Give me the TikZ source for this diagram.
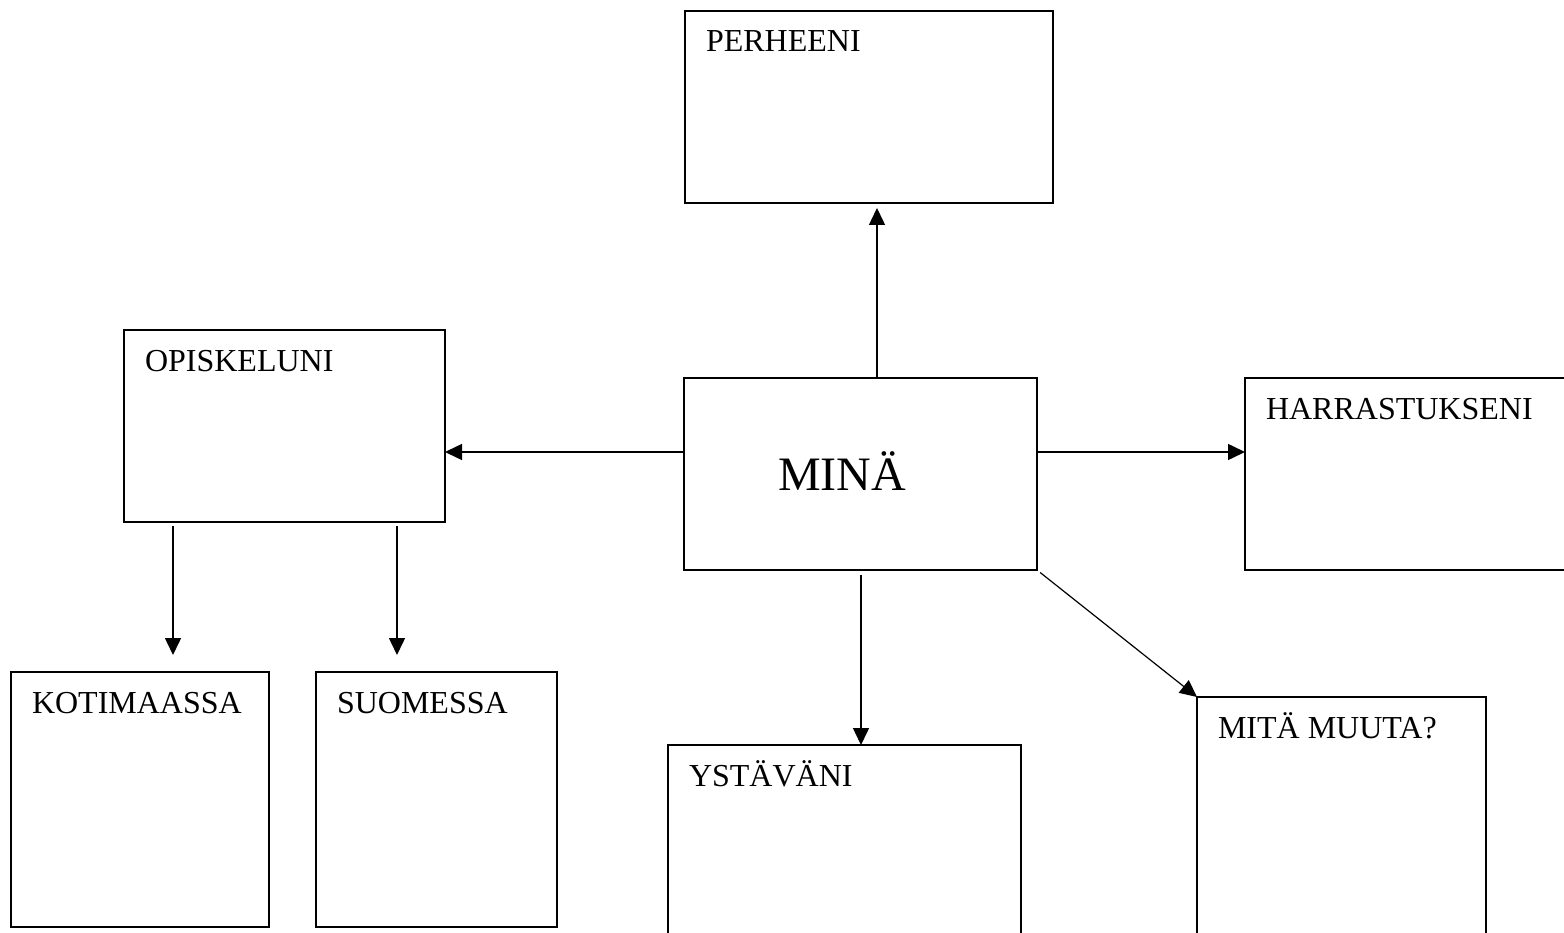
\documentclass[tikz,border=0pt]{standalone}
\usepackage{fontspec}
\setmainfont{Liberation Serif}
\usetikzlibrary{arrows.meta}
\newcommand{\drawtopic}[5]{
	\draw #1 node (#2) [shape=rectangle,draw,anchor=north west,minimum width=#3pt,minimum height=#4pt] {};
	\draw (#2.north west) ++(21,41) node [anchor=base west] (#2txt) {#5};
}

\begin{document}
\begin{tikzpicture}[x=1pt,y=-1pt,line width=1.5pt,
	every node/.style={inner sep=0pt,outer sep=0pt,font=\fontsize{32}{38}\selectfont},
	>={Triangle[length=17pt,width=16pt]}]
	\useasboundingbox (0,0) rectangle (1564,933);
	\clip (0,0) rectangle (1564,933);
	% centre box
	\draw (684,378) node (me) [shape=rectangle,draw,anchor=north west,minimum width=353pt,minimum height=192pt] {};
	\draw (me.north west) ++(94,112) node [anchor=base west,font=\fontsize{48}{58}\selectfont] (metxt) {MINÄ};
	% topic boxes
	\drawtopic{(685,11)}{fam}{368}{192}{PERHEENI}
	\drawtopic{(124,330)}{study}{321}{192}{OPISKELUNI}
	\drawtopic{(1245,378)}{hobby}{355}{192}{HARRASTUKSENI}
	\drawtopic{(11,672)}{home}{258}{255}{KOTIMAASSA}
	\drawtopic{(316,672)}{fin}{241}{255}{SUOMESSA}
	\drawtopic{(668,745)}{friends}{353}{215}{YSTÄVÄNI}
	\drawtopic{(1197,697)}{other}{289}{263}{MITÄ MUUTA?}
	% arrows
	\draw[->,shorten >=5pt] (877,0 |- me.north) -- (877,0 |- fam.south);
	\draw[->] (me.west |- 0,452) -- (study.east |- 0,452);
	\draw[->] (me.east |- 0,452) -- (hobby.west |- 0,452);
	\draw[->,shorten <=5pt] (861,0 |- me.south) -- (861,0 |- friends.north);
	\draw[->,line width=1.2pt,shorten <=4pt] (me.south east) -- (other.north west);
	\foreach \x/\n in {173/home,397/fin} {
		\draw[->,shorten <=4pt,shorten >=17pt] (\x,0 |- study.south) -- (\x,0 |- \n.north);
	}
\end{tikzpicture}
\end{document}
